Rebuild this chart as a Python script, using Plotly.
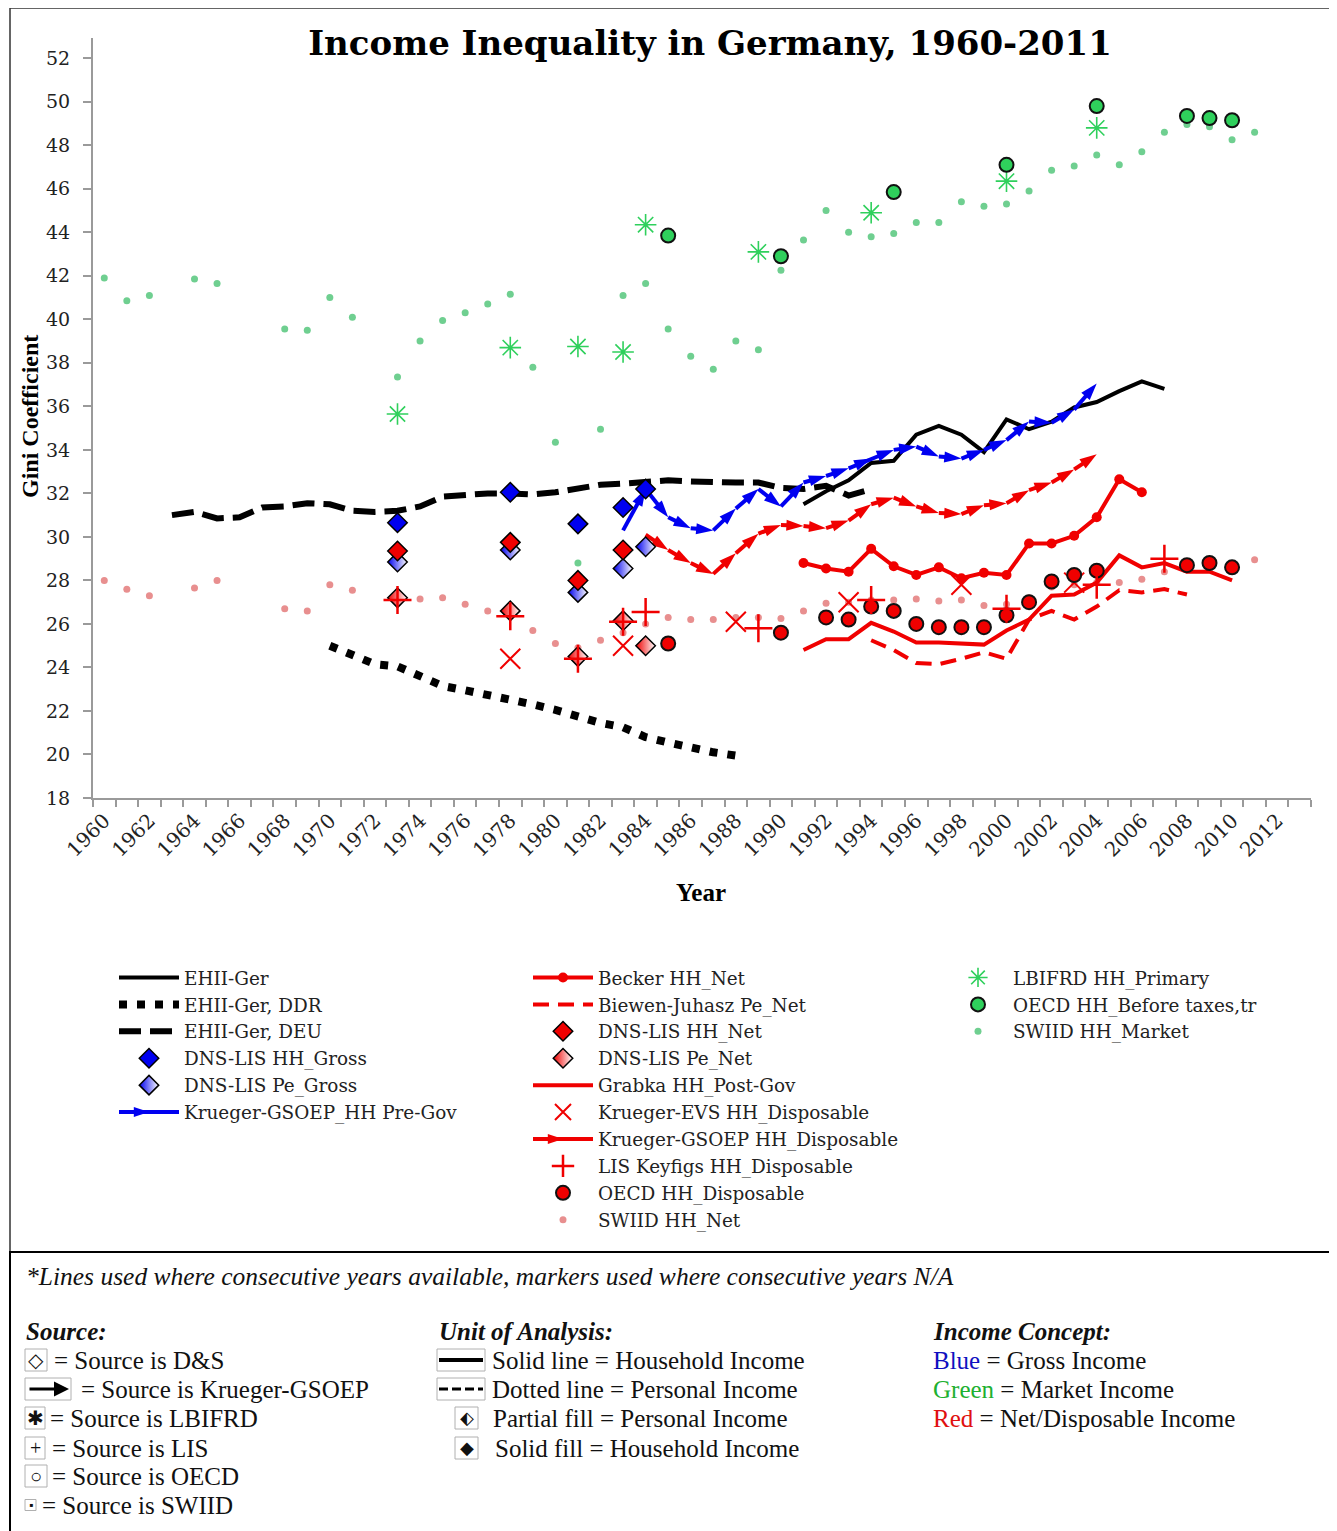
import plotly.graph_objects as go

# ---------------- data (Gini coefficients) ----------------
ehii_years = list(range(1991, 2008))
ehii = [31.5, 32.1, 32.6, 33.4, 33.5, 34.7, 35.1, 34.7, 33.9, 35.4, 34.95, 35.3,
        35.95, 36.2, 36.7, 37.15, 36.8]

ddr_years = list(range(1970, 1989))
ddr = [25.0, 24.6, 24.15, 24.05, 23.6, 23.15, 22.95, 22.75, 22.5, 22.3, 22.05,
       21.75, 21.45, 21.25, 20.8, 20.55, 20.3, 20.1, 19.95]

deu_years = list(range(1963, 1995))
deu = [31.0, 31.15, 30.85, 30.9, 31.35, 31.4, 31.55, 31.5, 31.2, 31.15, 31.2,
       31.4, 31.85, 31.95, 32.0, 32.0, 31.95, 32.05, 32.25, 32.4, 32.45, 32.5,
       32.6, 32.55, 32.5, 32.5, 32.5, 32.25, 32.2, 32.35, 31.9, 32.2]

dns_gross_years = [1973, 1978, 1981, 1983, 1984]
dns_hh_gross = [30.65, 32.05, 30.6, 31.35, 32.2]
dns_pe_gross = [28.85, 29.4, 27.45, 28.55, 29.55]

dns_hh_net_years = [1973, 1978, 1981, 1983]
dns_hh_net = [29.35, 29.75, 28.0, 29.4]
dns_pe_net_years = [1973, 1978, 1981, 1983, 1984]
dns_pe_net = [27.2, 26.6, 24.5, 26.15, 25.0]

pregov_years = list(range(1983, 2005))
pregov = [30.3, 32.2, 30.9, 30.4, 30.3, 31.3, 32.2, 31.4, 32.5, 32.8, 33.15,
          33.6, 34.0, 34.15, 33.7, 33.6, 34.0, 34.45, 35.3, 35.25, 35.85, 37.05]

gsoep_disp_years = list(range(1984, 2005))
gsoep_disp = [30.1, 29.4, 28.8, 28.3, 29.25, 30.15, 30.55, 30.5, 30.4, 30.75,
              31.5, 31.8, 31.4, 31.1, 31.05, 31.45, 31.55, 32.15, 32.5, 33.1, 33.8]

becker_years = list(range(1991, 2007))
becker = [28.8, 28.55, 28.4, 29.45, 28.65, 28.25, 28.6, 28.1, 28.35, 28.25,
          29.7, 29.7, 30.05, 30.9, 32.65, 32.05]

grabka_years = list(range(1991, 2011))
grabka = [24.8, 25.3, 25.3, 26.05, 25.65, 25.15, 25.15, 25.1, 25.05, 25.7, 26.2,
          27.3, 27.35, 27.9, 29.15, 28.6, 28.8, 28.4, 28.4, 28.0]

biewen_years = list(range(1994, 2009))
biewen = [25.25, 24.8, 24.2, 24.15, 24.4, 24.7, 24.4, 26.2, 26.6, 26.2, 26.8,
          27.55, 27.45, 27.6, 27.35]

evs_years = [1978, 1983, 1988, 1993, 1998, 2003]
evs = [24.4, 25.0, 26.1, 27.0, 27.8, 27.9]

lis_years = [1973, 1978, 1981, 1983, 1984, 1989, 1994, 2000, 2004, 2007]
lis = [27.1, 26.35, 24.4, 26.1, 26.55, 25.8, 27.1, 26.7, 27.8, 29.0]

oecd_disp_years = [1985, 1990, 1992, 1993, 1994, 1995, 1996, 1997, 1998, 1999,
                   2000, 2001, 2002, 2003, 2004, 2008, 2009, 2010]
oecd_disp = [25.1, 25.6, 26.3, 26.2, 26.8, 26.6, 26.0, 25.85, 25.85, 25.85,
             26.4, 27.0, 27.95, 28.25, 28.45, 28.7, 28.8, 28.6]

oecd_before_years = [1985, 1990, 1995, 2000, 2004, 2008, 2009, 2010]
oecd_before = [43.85, 42.9, 45.85, 47.1, 49.8, 49.35, 49.25, 49.15]

lbifrd_years = [1973, 1978, 1981, 1983, 1984, 1989, 1994, 2000, 2004]
lbifrd = [35.65, 38.7, 38.75, 38.5, 44.35, 43.1, 44.9, 46.35, 48.8]

swiid_years = [1960, 1961, 1962, 1964, 1965, 1968, 1969, 1970, 1971] + list(range(1973, 2012))
swiid_market = [41.9, 40.85, 41.1, 41.85, 41.65, 39.55, 39.5, 41.0, 40.1,
                37.35, 39.0, 39.95, 40.3, 40.7, 41.15, 37.8, 34.35, 28.8, 34.95,
                41.1, 41.65, 39.55, 38.3, 37.7, 39.0, 38.6, 42.25, 43.65, 45.0,
                44.0, 43.8, 43.95, 44.45, 44.45, 45.4, 45.2, 45.3, 45.9, 46.85,
                47.05, 47.55, 47.1, 47.7, 48.6, 48.95, 48.85, 48.25, 48.6]
swiid_net = [28.0, 27.6, 27.3, 27.65, 28.0, 26.7, 26.6, 27.8, 27.55,
             27.2, 27.15, 27.2, 26.9, 26.6, 26.4, 25.7, 25.1, 24.9, 25.25,
             25.6, 26.0, 26.3, 26.2, 26.2, 26.3, 26.3, 26.25, 26.6, 26.95,
             27.0, 27.1, 27.1, 27.15, 27.05, 27.1, 26.85, 26.9, 27.2, 27.7,
             27.8, 27.9, 27.9, 28.05, 28.4, 28.6, 28.7, 28.6, 28.95]

year_labels = list(range(1960, 2013, 2))

# ---------------- styling ----------------
RED = "#f00000"
BLUE = "#0000f0"
GREEN_DOT = "#6fcf90"
PINK_DOT = "#e88f8f"
GREEN = "#2fd05c"
SERIF = "DejaVu Serif, serif"
TSERIF = "Liberation Serif, DejaVu Serif, serif"

# page body adds an 8px offset; positions below are in screen pixels
OFF = 8
FIG_W, FIG_H = 1337 - OFF, 1531 - OFF
L, T, W, H = 93, 38, 1218, 760   # plot area on screen


def px(x):
    return (x - L) / W


def py(y):
    return 1 - (y - T) / H


fig = go.Figure()

# background dots
fig.add_trace(go.Scatter(x=swiid_years, y=swiid_market, mode="markers", name="SWIID HH_Market",
                         marker=dict(color=GREEN_DOT, size=7), legend="legend3", legendrank=3))
fig.add_trace(go.Scatter(x=swiid_years, y=swiid_net, mode="markers", name="SWIID HH_Net",
                         marker=dict(color=PINK_DOT, size=7), legend="legend2", legendrank=10))

# black EHII lines
fig.add_trace(go.Scatter(x=ehii_years, y=ehii, mode="lines", name="EHII-Ger",
                         line=dict(color="black", width=4), legend="legend", legendrank=1))
fig.add_trace(go.Scatter(x=ddr_years, y=ddr, mode="lines", name="EHII-Ger, DDR",
                         line=dict(color="black", width=8, dash="8px,10px"), legend="legend", legendrank=2))
fig.add_trace(go.Scatter(x=deu_years, y=deu, mode="lines", name="EHII-Ger, DEU",
                         line=dict(color="black", width=6, dash="22px,9px"), legend="legend", legendrank=3))

# red lines
fig.add_trace(go.Scatter(x=grabka_years, y=grabka, mode="lines", name="Grabka HH_Post-Gov",
                         line=dict(color=RED, width=4), legend="legend2", legendrank=5))
fig.add_trace(go.Scatter(x=biewen_years, y=biewen, mode="lines", name="Biewen-Juhasz Pe_Net",
                         line=dict(color=RED, width=4, dash="16px,9px"), legend="legend2", legendrank=2))
fig.add_trace(go.Scatter(x=becker_years, y=becker, mode="lines+markers", name="Becker HH_Net",
                         line=dict(color=RED, width=4), marker=dict(color=RED, size=10),
                         legend="legend2", legendrank=1))
fig.add_trace(go.Scatter(x=gsoep_disp_years, y=gsoep_disp, mode="lines+markers",
                         name="Krueger-GSOEP HH_Disposable",
                         line=dict(color=RED, width=4),
                         marker=dict(color=RED, size=18, symbol="arrow", angleref="previous"),
                         legend="legend2", legendrank=7))
fig.add_trace(go.Scatter(x=pregov_years, y=pregov, mode="lines+markers",
                         name="Krueger-GSOEP_HH Pre-Gov",
                         line=dict(color=BLUE, width=4),
                         marker=dict(color=BLUE, size=18, symbol="arrow", angleref="previous"),
                         legend="legend", legendrank=6))

# green markers
fig.add_trace(go.Scatter(x=lbifrd_years, y=lbifrd, mode="markers", name="LBIFRD HH_Primary",
                         marker=dict(symbol="asterisk-open", size=18, color=GREEN,
                                     line=dict(color=GREEN, width=1.6)),
                         legend="legend3", legendrank=1))
fig.add_trace(go.Scatter(x=oecd_before_years, y=oecd_before, mode="markers",
                         name="OECD HH_Before taxes,tr",
                         marker=dict(symbol="circle", size=14, color=GREEN,
                                     line=dict(color="#111111", width=2)),
                         legend="legend3", legendrank=2))

# red markers
fig.add_trace(go.Scatter(x=evs_years, y=evs, mode="markers", name="Krueger-EVS HH_Disposable",
                         marker=dict(symbol="x-thin", size=20, color=RED,
                                     line=dict(color=RED, width=2)),
                         legend="legend2", legendrank=6))
fig.add_trace(go.Scatter(x=oecd_disp_years, y=oecd_disp, mode="markers", name="OECD HH_Disposable",
                         marker=dict(symbol="circle", size=14, color=RED,
                                     line=dict(color="#111111", width=2)),
                         legend="legend2", legendrank=9))

# DNS-LIS diamonds (partial fill = personal income)
fig.add_trace(go.Scatter(x=dns_gross_years, y=dns_hh_gross, mode="markers", name="DNS-LIS HH_Gross",
                         marker=dict(symbol="diamond", size=15, color=BLUE,
                                     line=dict(color="black", width=1.5)),
                         legend="legend", legendrank=4))
fig.add_trace(go.Scatter(x=dns_gross_years, y=dns_pe_gross, mode="markers", name="DNS-LIS Pe_Gross",
                         marker=dict(symbol="diamond", size=15, color=BLUE,
                                     gradient=dict(type="horizontal", color="white"),
                                     line=dict(color="black", width=1.5)),
                         legend="legend", legendrank=5))
fig.add_trace(go.Scatter(x=dns_hh_net_years, y=dns_hh_net, mode="markers", name="DNS-LIS HH_Net",
                         marker=dict(symbol="diamond", size=15, color=RED,
                                     line=dict(color="black", width=1.5)),
                         legend="legend2", legendrank=3))
fig.add_trace(go.Scatter(x=dns_pe_net_years, y=dns_pe_net, mode="markers", name="DNS-LIS Pe_Net",
                         marker=dict(symbol="diamond", size=15, color=RED,
                                     gradient=dict(type="horizontal", color="white"),
                                     line=dict(color="black", width=1.5)),
                         legend="legend2", legendrank=4))
fig.add_trace(go.Scatter(x=lis_years, y=lis, mode="markers", name="LIS Keyfigs HH_Disposable",
                         marker=dict(symbol="cross-thin", size=20, color=RED,
                                     line=dict(color=RED, width=2.5)),
                         legend="legend2", legendrank=8))

legend_common = dict(xanchor="left", yanchor="top", bgcolor="rgba(0,0,0,0)",
                     font=dict(family=SERIF, size=18.4, color="#222222"),
                     itemwidth=60, traceorder="normal")

fig.update_layout(
    width=FIG_W, height=FIG_H,
    margin=dict(l=L - OFF, r=FIG_W - (L - OFF) - W, t=T - OFF, b=FIG_H - (T - OFF) - H),
    paper_bgcolor="white", plot_bgcolor="white",
    title=dict(text="<b>Income Inequality in Germany, 1960-2011</b>",
               font=dict(family=SERIF, size=34, color="black"),
               x=(710 - OFF) / FIG_W, y=1 - (43 - OFF) / FIG_H, xref="container", yref="container",
               xanchor="center", yanchor="middle"),
    xaxis=dict(range=[1959.5, 2013.5], tickmode="array", tickvals=year_labels,
               ticktext=[str(v) for v in year_labels], tickangle=-45,
               ticks="outside", ticklen=1, tickcolor="rgba(0,0,0,0)",
               minor=dict(tickmode="linear", tick0=1959.5, dtick=1, ticks="outside",
                          ticklen=7, tickcolor="#9a9a9a", tickwidth=1.5, showgrid=False),
               showline=True, linecolor="#9a9a9a", linewidth=2, showgrid=False, zeroline=False,
               tickfont=dict(family=SERIF, size=20, color="#222222")),
    yaxis=dict(range=[18, 52.93], tickmode="array", tickvals=list(range(18, 53, 2)),
               ticks="outside", ticklen=8, tickcolor="#9a9a9a", tickwidth=1.5,
               ticklabelstandoff=9,
               showline=True, linecolor="#9a9a9a", linewidth=2, showgrid=False, zeroline=False,
               tickfont=dict(family=SERIF, size=19, color="#222222")),
    legend=dict(x=px(114), y=py(959), **legend_common),
    legend2=dict(x=px(528), y=py(959), **legend_common),
    legend3=dict(x=px(943), y=py(959), **legend_common),
    showlegend=True,
)

# axis titles
fig.add_annotation(text="<b>Gini Coefficient</b>", x=px(30), y=py(417), xref="paper", yref="paper",
                   xanchor="center", yanchor="middle", textangle=-90, showarrow=False,
                   font=dict(family=TSERIF, size=24, color="black"))
fig.add_annotation(text="<b>Year</b>", x=px(701), y=py(892), xref="paper", yref="paper",
                   xanchor="center", yanchor="middle", showarrow=False,
                   font=dict(family=TSERIF, size=25, color="black"))

# frames
fig.add_shape(type="rect", xref="paper", yref="paper", x0=px(10), x1=px(1336), y0=py(1252), y1=py(8),
              line=dict(color="#333333", width=1.5))
fig.add_shape(type="rect", xref="paper", yref="paper", x0=px(10), x1=px(1330), y0=py(1545), y1=py(1252),
              line=dict(color="black", width=2))

# notes box
BOX_FONT = dict(family=TSERIF + ", DejaVu Sans", size=25, color="#111111")


def note(text, x, y, size=None, anchor="left"):
    f = dict(BOX_FONT)
    if size:
        f["size"] = size
    fig.add_annotation(text=text, x=px(x), y=py(y), xref="paper", yref="paper",
                       xanchor=anchor, yanchor="middle", showarrow=False, font=f)


def icon_box(x0, x1, y, half=11):
    fig.add_shape(type="rect", xref="paper", yref="paper", x0=px(x0), x1=px(x1),
                  y0=py(y + half), y1=py(y - half), line=dict(color="#b0b0b0", width=1))


note("<i>*Lines used where consecutive years available, markers used where consecutive years N/A</i>",
     24, 1276, 25.5)
note("<b><i>Source:</i></b>", 24, 1331)
note("<b><i>Unit of Analysis:</i></b>", 437, 1331)
note("<b><i>Income Concept:</i></b>", 931, 1331)

row_y = [1360, 1389, 1418, 1448, 1476, 1505]

# source column: icon glyphs + text
source_icons = ["◇", "", "✱", "+", "○", "▪"]
source_text = ["= Source is D&S", "= Source is Krueger-GSOEP", "= Source is LBIFRD",
               "= Source is LIS", "= Source is OECD", "= Source is SWIID"]
source_icon_x = [(25, 47), (25, 71), (25, 45), (25, 45), (25, 47), (25, 36)]
source_text_x = [52, 79, 48, 50, 50, 40]
for i in range(6):
    x0, x1 = source_icon_x[i]
    icon_box(x0, x1, row_y[i], 11 if i != 5 else 5.5)
    if source_icons[i]:
        note(source_icons[i], (x0 + x1) / 2, row_y[i], 20 if i != 5 else 12, anchor="center")
    note(source_text[i], source_text_x[i], row_y[i])
# arrow icon for Krueger-GSOEP
fig.add_annotation(x=px(69), y=py(1389), xref="paper", yref="paper", text="", showarrow=True,
                   ax=-41, ay=0, arrowhead=2, arrowsize=1, arrowwidth=3, arrowcolor="black")

# unit-of-analysis column
icon_box(437, 485, row_y[0])
fig.add_shape(type="line", xref="paper", yref="paper", x0=px(439), x1=px(483),
              y0=py(row_y[0]), y1=py(row_y[0]), line=dict(color="black", width=4))
icon_box(437, 485, row_y[1])
fig.add_shape(type="line", xref="paper", yref="paper", x0=px(439), x1=px(483),
              y0=py(row_y[1]), y1=py(row_y[1]), line=dict(color="black", width=3, dash="9px,4px"))
icon_box(455, 478, row_y[2])
note("⬖", 466.5, row_y[2], 18, anchor="center")
icon_box(455, 478, row_y[3])
note("◆", 466.5, row_y[3], 18, anchor="center")
unit_text = ["Solid line = Household Income", "Dotted line = Personal Income",
             "Partial fill = Personal Income", "Solid fill = Household Income"]
unit_text_x = [490, 490, 491, 493]
for i, t in enumerate(unit_text):
    note(t, unit_text_x[i], row_y[i])

concept_rows = ["<span style='color:#1010c0'>Blue</span> = Gross Income",
                "<span style='color:#20b030'>Green</span> = Market Income",
                "<span style='color:#e01010'>Red</span> = Net/Disposable Income"]
for i, t in enumerate(concept_rows):
    note(t, 931, row_y[i])

fig.write_html("out.html")
